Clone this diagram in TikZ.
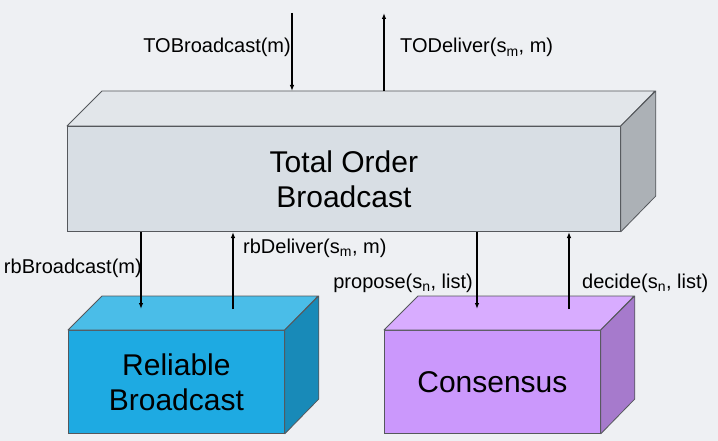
\documentclass[tikz,border=0pt]{standalone}
\usepackage{fontspec}
\setmainfont{Liberation Sans}
\usetikzlibrary{arrows.meta}
\definecolor{bgc}{RGB}{238,240,243}
\definecolor{edgec}{RGB}{85,88,92}
\definecolor{tofront}{RGB}{216,222,228}
\definecolor{totop}{RGB}{226,230,234}
\definecolor{toside}{RGB}{172,177,182}
\definecolor{rbfront}{RGB}{30,170,226}
\definecolor{rbtop}{RGB}{74,189,232}
\definecolor{rbside}{RGB}{24,138,184}
\definecolor{cofront}{RGB}{203,152,252}
\definecolor{cotop}{RGB}{216,172,255}
\definecolor{coside}{RGB}{166,122,204}
\tikzset{
  front/.style={draw=edgec, line width=0.8pt, inner sep=0pt, anchor=north west, align=center,
    font=\fontsize{30}{35}\selectfont},
  face/.style={draw=edgec, line width=0.8pt, line join=round},
  sig/.style={-{Latex[length=6pt,width=4.5pt]}, line width=1.1pt, black},
  lbl/.style={inner sep=0pt, font=\fontsize{20}{24}\selectfont},
}
\begin{document}
\begin{tikzpicture}[x=1pt,y=-1pt]
\fill[bgc] (0,0) rectangle (718,441);
\useasboundingbox (0,0) rectangle (718,441);

% Total Order Broadcast
\node[front, fill=tofront, minimum width=553pt, minimum height=105pt] (tob) at (67,126) {Total Order\\Broadcast};
\filldraw[face, fill=totop] (tob.north west) -- ++(35,-35) -- ++(553,0) -- (tob.north east) -- cycle;
\filldraw[face, fill=toside] (tob.north east) -- ++(35,-35) -- ++(0,105) -- (tob.south east) -- cycle;

% Reliable Broadcast
\node[front, fill=rbfront, minimum width=216pt, minimum height=103pt] (rb) at (68,330) {Reliable\\Broadcast};
\filldraw[face, fill=rbtop] (rb.north west) -- ++(34,-34) -- ++(216,0) -- (rb.north east) -- cycle;
\filldraw[face, fill=rbside] (rb.north east) -- ++(34,-34) -- ++(0,103) -- (rb.south east) -- cycle;

% Consensus
\node[front, fill=cofront, minimum width=216pt, minimum height=103pt] (co) at (384,330) {Consensus};
\filldraw[face, fill=cotop] (co.north west) -- ++(34,-34) -- ++(216,0) -- (co.north east) -- cycle;
\filldraw[face, fill=coside] (co.north east) -- ++(34,-34) -- ++(0,103) -- (co.south east) -- cycle;

% free ends
\coordinate (tobIn) at (292,13);
\coordinate (tobInEnd) at (292,91);
\coordinate (todOut) at (384,13);
\coordinate (todStart) at (384,91);
\coordinate (rbbS) at (141,232);
\coordinate (rbbE) at (141,309);
\coordinate (rbdS) at (233,309);
\coordinate (rbdE) at (233,232);
\coordinate (prS) at (477,232);
\coordinate (prE) at (477,309);
\coordinate (deS) at (569,309);
\coordinate (deE) at (569,232);

\draw[sig] (tobIn) -- (tobInEnd);
\draw[sig] (todStart) -- (todOut);
\draw[sig] (rbbS) -- (rbbE);
\draw[sig] (rbdS) -- (rbdE);
\draw[sig] (prS) -- (prE);
\draw[sig] (deS) -- (deE);

% labels
\node[lbl, anchor=base east] (l1) at (291,53) {TOBroadcast(m)};
\node[lbl, anchor=base west] (l2) at (400,53) {TODeliver(s\textsubscript{m}, m)};
\node[lbl, anchor=base east] (l3) at (142,273) {rbBroadcast(m)};
\node[lbl, anchor=base west] (l4) at (243,253) {rbDeliver(s\textsubscript{m}, m)};
\node[lbl, anchor=base east] (l5) at (473,288) {propose(s\textsubscript{n}, list)};
\node[lbl, anchor=base west] (l6) at (582,288) {decide(s\textsubscript{n}, list)};
\end{tikzpicture}
\end{document}
